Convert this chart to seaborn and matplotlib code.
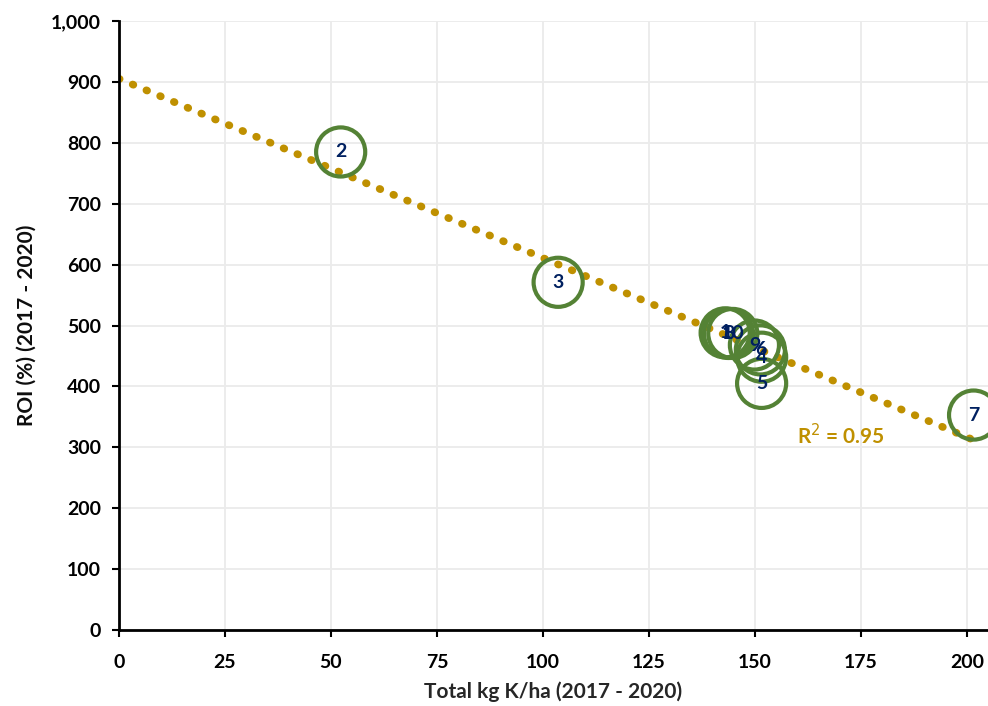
import numpy as np
import pandas as pd
import matplotlib.pyplot as plt
import seaborn as sns

# Field data
labels = ['1', '2', '3', '4', '5', '6', '7', '8', '9', '10']
total_k = [143.0, 52.3, 103.6, 151.6, 151.6, 151.3, 201.6, 143.8, 149.9, 144.8]
roi = [488, 785, 571, 448, 405, 460, 353, 487, 468, 487]

df = pd.DataFrame({'Site': labels, 'K': total_k, 'ROI': roi})

sns.set_theme(style='whitegrid')
plt.rcParams['font.family'] = ['Lato', 'DejaVu Sans']

fig = plt.figure(figsize=(9.88, 7.06), dpi=100)
ax = fig.add_axes([0.1204, 0.1076, 0.8796, 0.8626])

# Linear trendline
coef = np.polyfit(df['K'], df['ROI'], 1)
xs = np.linspace(0, 202, 200)
ax.plot(xs, np.polyval(coef, xs), linestyle=(0, (0.1, 1.85)), color='#BF9000',
        linewidth=5.5, dash_capstyle='round', zorder=2)

sns.scatterplot(data=df, x='K', y='ROI', ax=ax, s=1250, marker='o',
                facecolor='none', edgecolor='#548235', linewidth=3, zorder=3)
for _, r in df.iterrows():
    ax.text(r['K'], r['ROI'], r['Site'], ha='center', va='center', fontsize=14,
            fontweight='bold', color='#002060', zorder=4)

ax.text(160, 320, 'R$^2$ = 0.95', color='#BF9000', fontsize=15, fontweight='bold',
        ha='left', va='center')

ax.set_xlim(0, 205)
ax.set_ylim(0, 1000)
ax.set_xticks(range(0, 201, 25))
ax.set_yticks(range(0, 1001, 100))
ax.set_yticklabels([f'{v:,}' for v in range(0, 1001, 100)])
ax.grid(True, color='#EBEBEB', linewidth=1.3)
ax.set_facecolor('white')
for s in ['top', 'right']:
    ax.spines[s].set_visible(False)
for s in ['left', 'bottom']:
    ax.spines[s].set_color('black')
    ax.spines[s].set_linewidth(2)
ax.tick_params(axis='both', which='both', length=5, width=1.5, color='black',
               labelsize=14, labelcolor='black', direction='out', bottom=True, left=True)
ax.tick_params(axis='x', pad=12)
ax.tick_params(axis='y', pad=8)
for t in ax.get_xticklabels() + ax.get_yticklabels():
    t.set_fontweight('bold')
ax.set_xlabel('Total kg K/ha (2017 - 2020)', fontsize=15, fontweight='bold', color='#262626',
              labelpad=8)
ax.set_ylabel('ROI (%) (2017 - 2020)', fontsize=15, fontweight='bold', color='#0D0D0D',
              labelpad=10)

fig.savefig('out.png', dpi=100)
